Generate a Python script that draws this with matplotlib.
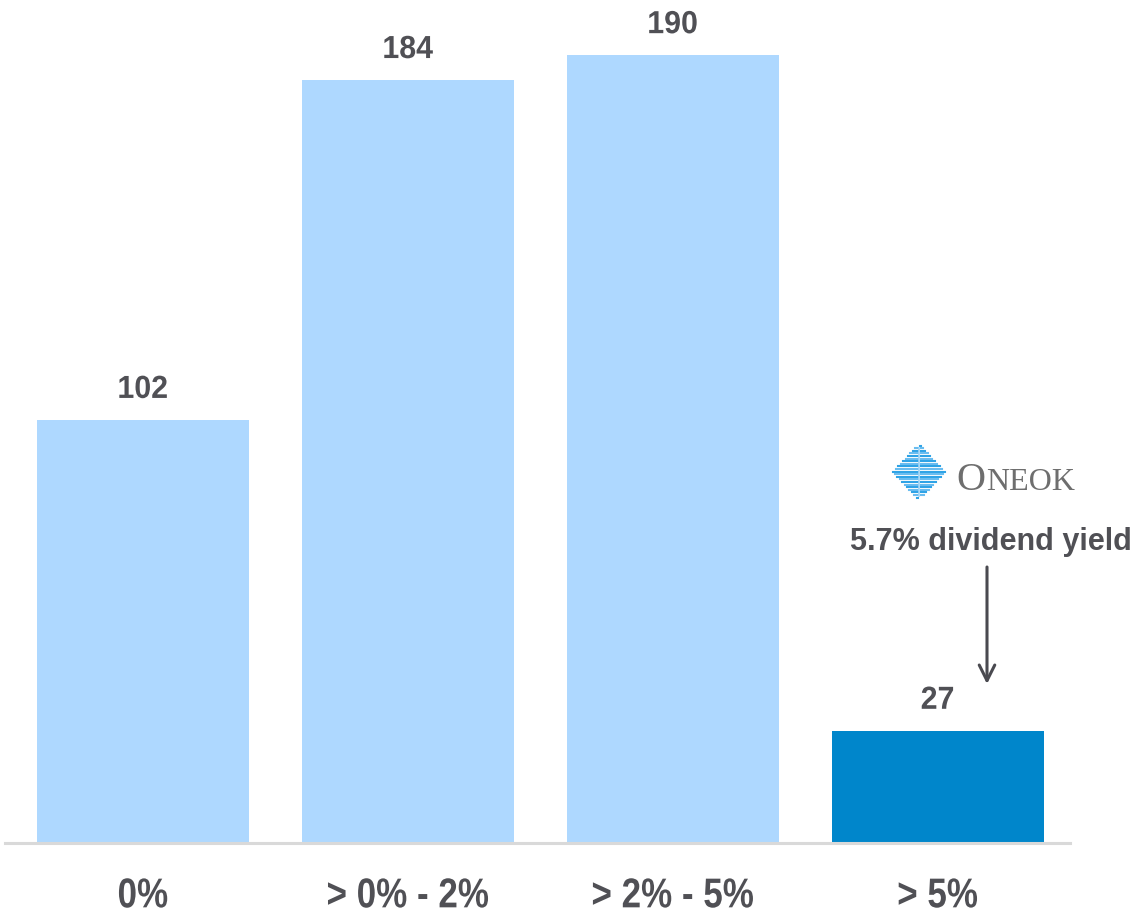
import matplotlib
matplotlib.use("Agg")
import matplotlib.pyplot as plt
import numpy as np
from matplotlib.patheffects import AbstractPathEffect
from matplotlib.transforms import Affine2D

categories = ["0%", "> 0% - 2%", "> 2% - 5%", "> 5%"]
counts = [102, 184, 190, 27]
highlight = "> 5%"
note_text = "5.7% dividend yield"

W, H = 1135, 916
LIGHT = "#AED8FF"
DARK = "#0086CB"
TEXT = "#505055"
FONT = ["Liberation Sans", "DejaVu Sans"]


class Squeeze(AbstractPathEffect):
    """Narrow the glyphs horizontally about their centre (no narrow font here)."""

    def __init__(self, sx):
        super().__init__()
        self.sx = sx

    def draw_path(self, renderer, gc, tpath, affine, rgbFace=None):
        ext = tpath.get_extents()
        mid = (ext.x0 + ext.x1) / 2
        t = Affine2D().translate(-mid, 0).scale(self.sx, 1).translate(mid, 0) + affine
        renderer.draw_path(gc, tpath, t, rgbFace)


def fx(x):
    return x / W


def fy(y):
    return 1 - y / H


fig = plt.figure(figsize=(W / 100, H / 100), dpi=100)
ax = fig.add_axes([fx(5), 1 - 843 / H, (1070 - 5) / W, (843 - 14) / H])

x = np.arange(len(categories))
colors = [DARK if c == highlight else LIGHT for c in categories]
bars = ax.bar(x, counts, width=0.8, color=colors)
labels = ax.bar_label(bars, padding=11, fontsize=23, fontweight="bold", color=TEXT, family=FONT)
for t in labels:
    t.set_path_effects([Squeeze(0.95)])

ax.set_xlim(-0.52, 3.50)
ax.set_ylim(0, 200)
ax.set_xticks(x)
ax.set_xticklabels(categories, fontsize=30, fontweight="bold", color=TEXT, family=FONT)
for t in ax.get_xticklabels():
    t.set_path_effects([Squeeze(0.84)])
ax.tick_params(axis="x", length=0, pad=24)
ax.set_yticks([])
for side in ["top", "right", "left"]:
    ax.spines[side].set_visible(False)
ax.spines["bottom"].set_color("#D9D9D9")
ax.spines["bottom"].set_linewidth(2.2)

# annotation with arrow
fig.text(fx(991), fy(542), note_text, ha="center", va="center", fontsize=22,
         fontweight="bold", color=TEXT, family=FONT)
ax.annotate("", xy=(fx(987), fy(684)), xytext=(fx(987), fy(567)),
            xycoords="figure fraction", textcoords="figure fraction",
            arrowprops=dict(arrowstyle="->", color="#4A4A50", lw=2.2,
                            mutation_scale=28, shrinkA=0, shrinkB=0))

# ONEOK logo: striped diamond + wordmark
cx, cy, hw, hh = 919, 472, 26, 28
for i, yy in enumerate(np.arange(cy - hh + 1.5, cy + hh, 2.6)):
    half = hw * (1 - abs(yy - cy) / hh)
    if half < 1:
        continue
    shade = "#2FA3E6" if i % 2 == 0 else "#6ABDF0"
    for x0, x1 in [(cx - half, cx - 1.5), (cx + 1.5, cx + half)]:
        fig.lines.append(plt.Line2D([fx(x0), fx(x1)], [fy(yy), fy(yy)],
                                    transform=fig.transFigure, color=shade, lw=1.5))
fig.lines.append(plt.Line2D([fx(cx), fx(cx)], [fy(cy - hh + 4), fy(cy + hh - 4)],
                            transform=fig.transFigure, color="#9FD3F5", lw=1.2))
fig.text(fx(956), fy(490), "O", ha="left", va="baseline", fontsize=29,
         color="#6E6E6E", family="Liberation Serif")
fig.text(fx(986), fy(490), "NEOK", ha="left", va="baseline", fontsize=23,
         color="#6E6E6E", family="Liberation Serif")

fig.savefig("out.png", dpi=100)
